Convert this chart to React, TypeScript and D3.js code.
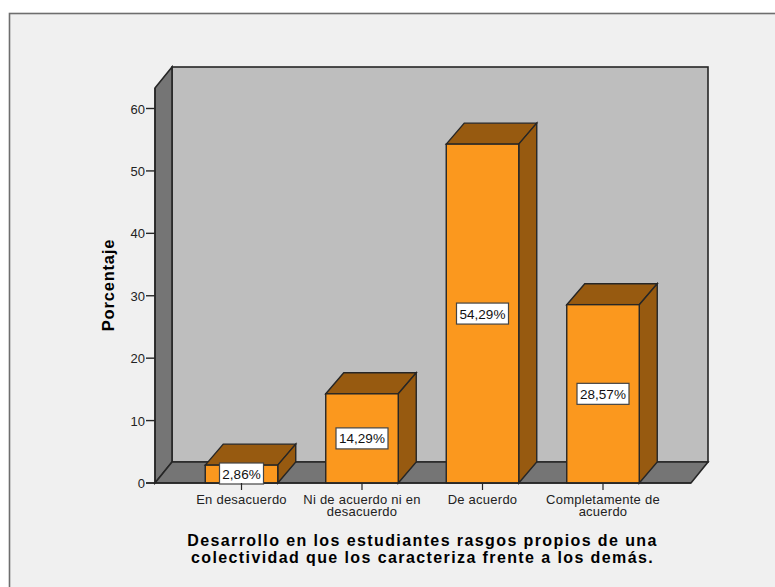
import React from "react";
import * as d3 from "d3";

const categories = ["En desacuerdo", "Ni de acuerdo ni en|desacuerdo", "De acuerdo", "Completamente de|acuerdo"];
const values = [2.86, 14.29, 54.29, 28.57];
const valueLabels = ["2,86%", "14,29%", "54,29%", "28,57%"];
const yTicks = [0, 10, 20, 30, 40, 50, 60];
const titleLines = ["Desarrollo en los estudiantes rasgos propios de una", "colectividad que los caracteriza frente a los demás."];

const W = 775, H = 587;
const x0 = 155, x1 = 691, y0 = 483, yTop = 88;
const dx = 17, dy = -21;
const barW = 72.5;
const font = "'Liberation Sans', Arial, sans-serif";
const stroke = "#262626";

const y = d3.scaleLinear().domain([0, 60]).range([y0, 108.5]);
const x = d3.scalePoint<string>().domain(categories).range([241.5, 603]);

const pts = (p: number[][]) => p.map((q) => q.join(",")).join(" ");

export default function App() {
  return (
    <svg width={W} height={H} style={{ position: "absolute", left: 0, top: 0, background: "#fff" }}>
      <rect x={9.5} y={13.5} width={W} height={H} fill="#f0f0f0" stroke="#6e6e6e" strokeWidth={1.6} />
      {/* back wall, left wall, floor */}
      <rect x={x0 + dx} y={yTop + dy} width={x1 - x0} height={y0 - yTop} fill="#bebebe" stroke={stroke} strokeWidth={1.6} />
      <polygon points={pts([[x0, yTop], [x0 + dx, yTop + dy], [x0 + dx, y0 + dy], [x0, y0]])} fill="#757575" stroke={stroke} strokeWidth={1.6} />
      <polygon points={pts([[x0, y0], [x0 + dx, y0 + dy], [x1 + dx, y0 + dy], [x1, y0]])} fill="#757575" stroke={stroke} strokeWidth={1.6} />
      {/* y axis */}
      <line x1={x0} x2={x0} y1={y0} y2={yTop} stroke={stroke} strokeWidth={1.4} />
      {yTicks.map((t) => (
        <g key={t}>
          <line x1={x0 - 9} x2={x0} y1={y(t)} y2={y(t)} stroke={stroke} strokeWidth={1.4} />
          <text x={x0 - 10} y={y(t) + 5} textAnchor="end" fontFamily={font} fontSize={13} fill="#222">{t}</text>
        </g>
      ))}
      <text transform="translate(114,285) rotate(-90)" textAnchor="middle" fontFamily={font} fontSize={16.5} fontWeight="bold" letterSpacing={0.8} fill="#000">Porcentaje</text>
      {/* bars */}
      {categories.map((c, i) => {
        const cx = x(c) as number;
        const l = cx - barW / 2, r = cx + barW / 2, t = y(values[i]);
        return (
          <g key={c}>
            <polygon points={pts([[l, t], [l + 18, t + dy], [r + 18, t + dy], [r, t]])} fill="#975a10" stroke={stroke} strokeWidth={1.4} />
            <polygon points={pts([[r, t], [r + 18, t + dy], [r + 18, y0 + dy], [r, y0]])} fill="#975a10" stroke={stroke} strokeWidth={1.4} />
            <rect x={l} y={t} width={barW} height={y0 - t} fill="#fb981e" stroke={stroke} strokeWidth={1.4} />
          </g>
        );
      })}
      <line x1={x0 - 9} x2={x1} y1={y0} y2={y0} stroke={stroke} strokeWidth={1.4} />
      {/* value labels */}
      {categories.map((c, i) => {
        const cx = x(c) as number;
        const cy = i === 0 ? 473.5 : (y(values[i]) + y0) / 2;
        const w = i === 0 ? 44 : 52;
        return (
          <g key={c}>
            <rect x={cx - w / 2} y={cy - 10.5} width={w} height={21} fill="#fff" stroke="#444" strokeWidth={1.2} />
            <text x={cx} y={cy + 5} textAnchor="middle" fontFamily={font} fontSize={13.5} fill="#111">{valueLabels[i]}</text>
          </g>
        );
      })}
      {/* x labels */}
      {categories.map((c) => {
        const cx = x(c) as number;
        return (
          <g key={c}>
            <line x1={cx} x2={cx} y1={y0} y2={y0 + 7} stroke={stroke} strokeWidth={1.2} />
            {c.split("|").map((s, j) => (
              <text key={j} x={cx} y={503.5 + j * 12} textAnchor="middle" fontFamily={font} fontSize={13} letterSpacing={0.25} fill="#222">{s}</text>
            ))}
          </g>
        );
      })}
      {titleLines.map((s, j) => (
        <text key={j} x={422.5} y={545.5 + j * 17} textAnchor="middle" fontFamily={font} fontSize={16} fontWeight="bold" letterSpacing={1.4} fill="#000">{s}</text>
      ))}
    </svg>
  );
}
